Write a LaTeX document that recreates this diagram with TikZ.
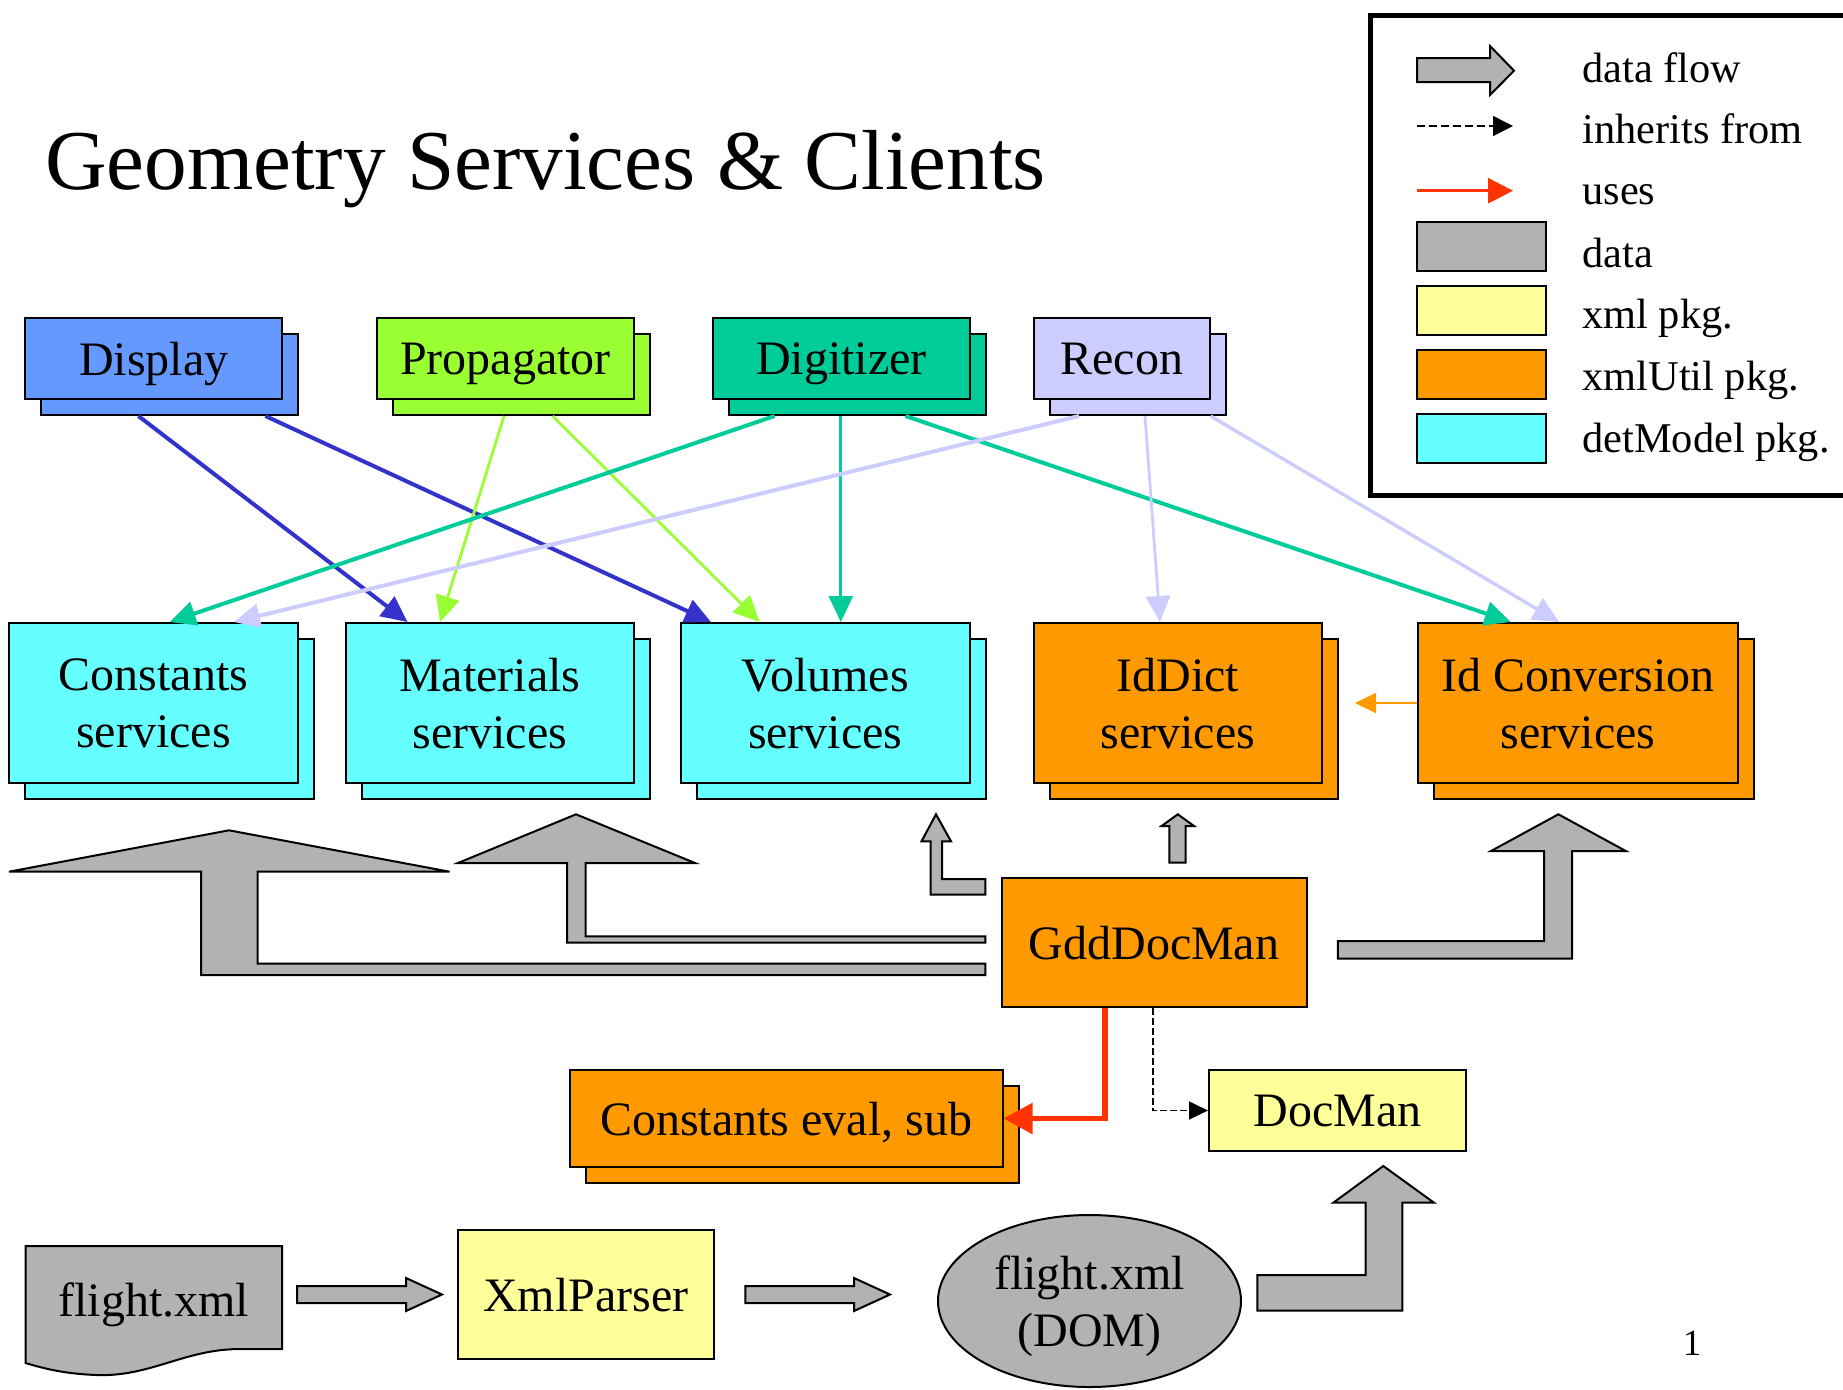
\documentclass[tikz,border=0pt]{standalone}
\usepackage{fontspec}
\setmainfont{Liberation Serif}
\usetikzlibrary{arrows.meta,shadows,calc,shapes.geometric}
\definecolor{cDisp}{HTML}{6699FF}
\definecolor{cProp}{HTML}{99FF33}
\definecolor{cDig}{HTML}{00CC99}
\definecolor{cRec}{HTML}{CCCCFF}
\definecolor{cCyan}{HTML}{66FFFF}
\definecolor{cOrange}{HTML}{FF9900}
\definecolor{cYellow}{HTML}{FFFF99}
\definecolor{cGray}{HTML}{B2B2B2}
\definecolor{cBlueLine}{HTML}{3333CC}
\definecolor{cRed}{HTML}{FF3300}
\begin{document}
\begin{tikzpicture}[x=0.5pt,y=-0.5pt,
  box/.style={draw=black, line width=1pt, inner sep=0pt, text depth=0pt, align=center,
    font=\fontsize{24}{28.5}\selectfont},
  sbox/.style={box, fill=#1, copy shadow={shadow xshift=8pt, shadow yshift=-8pt, fill=#1, draw=black, line width=1pt}},
  legbox/.style={draw=black, line width=1pt, inner sep=0pt, minimum width=64.5pt, minimum height=24.5pt, fill=#1},
  legtext/.style={anchor=base west, inner sep=0pt, font=\fontsize{21.2}{25}\selectfont},
  flow/.style={draw=black, line width=1pt, fill=cGray},
  tip/.style={-{Triangle[length=13pt,width=12pt]}},
  thickc/.style={tip, line width=2pt, draw=#1},
  thinc/.style={tip, line width=1.4pt, draw=#1},
]
\useasboundingbox (0,0) rectangle (1843,1389);

% title
\node[anchor=base west, inner sep=0pt, font=\fontsize{42.6}{50}\selectfont] (title) at (44.7,189) {Geometry Services \& Clients};

% legend
\draw[line width=2.5pt] (1370,15) rectangle (1880,495);
\draw[flow] (1417,58) -- (1490,58) -- (1490,46) -- (1514,70.7) -- (1490,95) -- (1490,82) -- (1417,82) -- cycle;
\coordinate (li1) at (1417,126); \coordinate (li2) at (1513,126);
\draw[line width=0.8pt, dash pattern=on 4pt off 2pt, -{Triangle[length=10pt,width=10pt]}] (li1) -- (li2);
\coordinate (lu1) at (1417,190.7); \coordinate (lu2) at (1513,190.7);
\draw[draw=cRed, line width=1.5pt, -{Triangle[length=12.5pt,width=12.5pt]}] (lu1) -- (lu2);
\node[legbox=cGray] (lgdata) at (1481.5,246.5) {};
\node[legbox=cYellow] (lgxml) at (1481.5,310.5) {};
\node[legbox=cOrange] (lgutil) at (1481.5,374.5) {};
\node[legbox=cCyan] (lgdet) at (1481.5,438.5) {};
\node[legtext] (t1) at (1582,82) {data flow};
\node[legtext] (t2) at (1582,143) {inherits from};
\node[legtext] (t3) at (1582,204) {uses};
\node[legtext] (t4) at (1582,267) {data};
\node[legtext] (t5) at (1582,328) {xml pkg.};
\node[legtext] (t6) at (1582,390) {xmlUtil pkg.};
\node[legtext] (t7) at (1582,452) {detModel pkg.};

% client boxes
\node[sbox=cDisp, minimum width=128.3pt, minimum height=40.5pt] (disp) at (153.7,358.5) {Display};
\node[sbox=cProp, minimum width=128.5pt, minimum height=40.5pt] (prop) at (505.5,358.5) {Propagator};
\node[sbox=cDig, minimum width=128.3pt, minimum height=40.5pt] (dig) at (841.3,358.5) {Digitizer};
\node[sbox=cRec, minimum width=88.25pt, minimum height=40.5pt] (rec) at (1121.75,358.5) {Recon};

% service boxes
\node[sbox=cCyan, minimum width=144.2pt, minimum height=80pt] (cons) at (153.6,703) {Constants\\services};
\node[sbox=cCyan, minimum width=144.25pt, minimum height=80pt] (mat) at (489.75,703) {Materials\\services};
\node[sbox=cCyan, minimum width=144.3pt, minimum height=80pt] (vol) at (825.3,703) {Volumes\\services};
\node[sbox=cOrange, minimum width=144.25pt, minimum height=80pt] (idd) at (1177.75,703) {IdDict\\services};
\node[sbox=cOrange, minimum width=160pt, minimum height=80pt] (idc) at (1578,703) {Id Conversion\\services};

% lower boxes
\node[box, fill=cOrange, minimum width=152.5pt, minimum height=64.5pt] (gdd) at (1154,942.5) {GddDocMan};
\node[box, fill=cYellow, minimum width=128.5pt, minimum height=40.5pt] (dm) at (1337.5,1110.5) {DocMan};
\node[sbox=cOrange, minimum width=216.25pt, minimum height=48.5pt] (ce) at (786.25,1118.5) {Constants eval, sub};
\node[box, fill=cYellow, minimum width=128.15pt, minimum height=64.5pt] (xp) at (585.85,1294.5) {XmlParser};
\node[box, ellipse, fill=cGray, minimum width=151.5pt, minimum height=86pt] (dom) at (1089.5,1301) {flight.xml\\(DOM)};

% flight.xml document
\draw[flow] (25.7,1246) -- (282,1246) -- (282,1349) -- (240,1349) .. controls (185,1349) and (150,1377) .. (97,1375) .. controls (67,1374) and (45,1369) .. (25.7,1363) -- cycle;
\node[inner sep=0pt, text depth=0pt, font=\fontsize{24}{28.5}\selectfont] (fx) at (153.9,1299.6) {flight.xml};

% colored connectors
\draw[thickc=cBlueLine] ($(disp.south west)+(114,16)$) -- ($(mat.north west)+(63,0)$);
\draw[thickc=cBlueLine] ($(disp.south west)+(241,16)$) -- ($(vol.north west)+(31,0)$);
\draw[thinc=cProp] ($(prop.south west)+(128,16)$) -- ($(mat.north west)+(95.5,0)$);
\draw[thinc=cProp] ($(prop.south west)+(176.6,16)$) -- ($(vol.north west)+(79.7,0)$);
\draw[thickc=cDig] ($(dig.south west)+(62.6,16)$) -- ($(cons.north west)+(161.3,0)$);
\draw[thinc=cDig] ($(dig.south west)+(128.8,16)$) -- ($(vol.north west)+(160.8,0)$);
\draw[thickc=cDig] ($(dig.south west)+(193.5,16)$) -- ($(idc.north west)+(93.7,0)$);
\draw[thickc=cRec] ($(rec.south west)+(46.5,16)$) -- ($(cons.north west)+(225.6,0)$);
\draw[thinc=cRec] ($(rec.south west)+(112.5,16)$) -- ($(idd.north west)+(127.5,0)$);
\draw[thickc=cRec, line width=1.7pt] ($(rec.south west)+(178,16)$) -- ($(idc.north west)+(142,0)$);

% orange uses
\draw[draw=cOrange, line width=1pt, -{Triangle[length=10.5pt,width=10pt]}] (idc.west) -- ($(idd.east)+(32,0)$);

% red uses and inherits
\draw[draw=cRed, line width=2.75pt, -{Triangle[length=14.5pt,width=15pt]}] ($(gdd.south west)+(104.4,0)$) |- (ce.east);
\draw[line width=0.8pt, dash pattern=on 3.3pt off 1.7pt, -{Triangle[length=9.5pt,width=9pt]}] ($(gdd.south west)+(152.2,0)$) |- (dm.west);

% data flow arrows
\draw[flow] (985.3,963.7) -- (257.7,963.7) -- (257.7,871.7) -- (449.6,871.7) -- (229,830.3) -- (9,871.7) -- (201,871.7) -- (201,975) -- (985.3,975) -- cycle;
\draw[flow] (985.3,936.3) -- (585.5,936.3) -- (585.5,863) -- (695,863) -- (576,814.3) -- (458,863) -- (567,863) -- (567,942.7) -- (985.3,942.7) -- cycle;
\draw[flow] (985.3,879) -- (942,879) -- (942,841.3) -- (951,841.3) -- (936,814.3) -- (921.5,841.3) -- (930.5,841.3) -- (930.5,894.7) -- (985.3,894.7) -- cycle;
\draw[flow] (1169.4,862.7) -- (1169.4,826) -- (1161.6,826) -- (1177.8,814.3) -- (1194,826) -- (1185.6,826) -- (1185.6,862.7) -- cycle;
\draw[flow] (1337.8,941) -- (1544,941) -- (1544,851) -- (1491,851) -- (1558.4,814.3) -- (1625.8,851) -- (1572,851) -- (1572,958.7) -- (1337.8,958.7) -- cycle;
\draw[flow] (297,1286) -- (406,1286) -- (406,1278) -- (442,1294.5) -- (406,1311) -- (406,1303) -- (297,1303) -- cycle;
\draw[flow] (745.4,1286) -- (854,1286) -- (854,1278) -- (890,1294.5) -- (854,1311) -- (854,1303) -- (745.4,1303) -- cycle;
\draw[flow] (1257.3,1275) -- (1365.7,1275) -- (1365.7,1202.7) -- (1333.3,1202.7) -- (1383.3,1166) -- (1434,1202.7) -- (1402.3,1202.7) -- (1402.3,1310.7) -- (1257.3,1310.7) -- cycle;

% page number
\node[anchor=base, inner sep=0pt, font=\fontsize{18.5}{22}\selectfont] (pg) at (1692,1355) {1};
\end{tikzpicture}
\end{document}
